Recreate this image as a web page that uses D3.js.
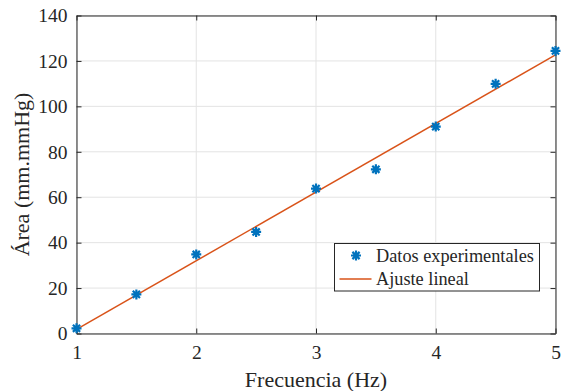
<!DOCTYPE html>
<html>
<head>
<meta charset="utf-8">
<script src="https://cdn.jsdelivr.net/npm/d3@7/dist/d3.min.js"></script>
<style>
html,body{margin:0;padding:0;background:#fff;}
svg{display:block;}
text{font-family:"Liberation Serif","Times New Roman",serif;fill:#262626;}
</style>
</head>
<body>
<svg id="chart" width="562" height="391"></svg>
<script>
const freq = [1, 1.5, 2, 2.5, 3, 3.5, 4, 4.5, 5];
const area = [2.3, 17.2, 34.8, 44.7, 63.8, 72.3, 91.1, 109.9, 124.4];
const fitX = [1, 5];
const fitY = [1.8, 122.7];
const xTicks = [1, 2, 3, 4, 5];
const yTicks = [0, 20, 40, 60, 80, 100, 120, 140];
const seriesNames = ["Datos experimentales", "Ajuste lineal"];
const xLabel = "Frecuencia (Hz)";
const yLabel = "Área (mm.mmHg)";

const W = 562, H = 391;
const m = {left: 76.5, right: 6.5, top: 15.5, bottom: 57.5};
const iw = W - m.left - m.right, ih = H - m.top - m.bottom;
const blue = "#0072BD", orange = "#D95319", axc = "#262626";

const svg = d3.select("#chart");
const g = svg.append("g").attr("transform", `translate(${m.left},${m.top})`);
const x = d3.scaleLinear().domain([1, 5]).range([0, iw]);
const y = d3.scaleLinear().domain([0, 140]).range([ih, 0]);

// grid
g.append("g").selectAll("line").data(xTicks).join("line")
  .attr("x1", d => x(d)).attr("x2", d => x(d)).attr("y1", 0).attr("y2", ih)
  .attr("stroke", "#e3e3e3").attr("stroke-width", 1);
g.append("g").selectAll("line").data(yTicks).join("line")
  .attr("x1", 0).attr("x2", iw).attr("y1", d => y(d)).attr("y2", d => y(d))
  .attr("stroke", "#e3e3e3").attr("stroke-width", 1);

// axes
const tl = 5;
const xb = g.append("g").attr("transform", `translate(0,${ih})`)
  .call(d3.axisBottom(x).tickValues(xTicks).tickSizeInner(-tl).tickSizeOuter(0).tickPadding(12).tickFormat(d3.format("d")));
const xt = g.append("g")
  .call(d3.axisTop(x).tickValues(xTicks).tickSizeInner(-tl).tickSizeOuter(0).tickFormat(""));
const yl = g.append("g")
  .call(d3.axisLeft(y).tickValues(yTicks).tickSizeInner(-tl).tickSizeOuter(0).tickPadding(9).tickFormat(d3.format("d")));
const yr = g.append("g").attr("transform", `translate(${iw},0)`)
  .call(d3.axisRight(y).tickValues(yTicks).tickSizeInner(-tl).tickSizeOuter(0).tickFormat(""));
[xb, xt, yl, yr].forEach(a => {
  a.attr("font-family", '"Liberation Serif",serif');
  a.selectAll("path").attr("stroke", axc).attr("stroke-width", 1);
  a.selectAll("line").attr("stroke", axc).attr("stroke-width", 1);
  a.selectAll("text").attr("font-size", 19.5).attr("fill", axc);
});
xb.selectAll("text").attr("dy", "0.71em");

// fit line
const line = d3.line().x((d, i) => x(fitX[i])).y(d => y(d));
g.append("path").datum(fitY).attr("d", line)
  .attr("fill", "none").attr("stroke", orange).attr("stroke-width", 1.5);

// asterisk markers
const r = 5, rd = r * 0.72;
const star = `M${-r},0L${r},0M0,${-r}L0,${r}M${-rd},${-rd}L${rd},${rd}M${-rd},${rd}L${rd},${-rd}`;
g.append("g").selectAll("path").data(freq).join("path")
  .attr("transform", (d, i) => `translate(${x(d)},${y(area[i])})`)
  .attr("d", star).attr("stroke", blue).attr("stroke-width", 2.2).attr("fill", "none");

// axis labels
svg.append("text").attr("x", m.left + iw / 2).attr("y", 387)
  .attr("text-anchor", "middle").attr("font-size", 22).text(xLabel);
svg.append("text").attr("transform", `translate(29,${m.top + ih / 2}) rotate(-90)`)
  .attr("text-anchor", "middle").attr("font-size", 22).text(yLabel);

// legend
const lg = svg.append("g").attr("transform", "translate(334.5,243.5)");
lg.append("rect").attr("width", 205).attr("height", 47.5)
  .attr("fill", "#fff").attr("stroke", axc).attr("stroke-width", 1);
lg.append("path").attr("transform", "translate(21.5,12)").attr("d", star)
  .attr("stroke", blue).attr("stroke-width", 2.2).attr("fill", "none");
lg.append("line").attr("x1", 5).attr("x2", 37).attr("y1", 35.5).attr("y2", 35.5)
  .attr("stroke", orange).attr("stroke-width", 1.5);
lg.selectAll("text.leg").data(seriesNames).join("text").attr("class", "leg")
  .attr("x", 41.5).attr("y", (d, i) => 12 + i * 23.5).attr("dy", "0.35em")
  .attr("font-size", 18.3).text(d => d);
</script>
</body>
</html>
